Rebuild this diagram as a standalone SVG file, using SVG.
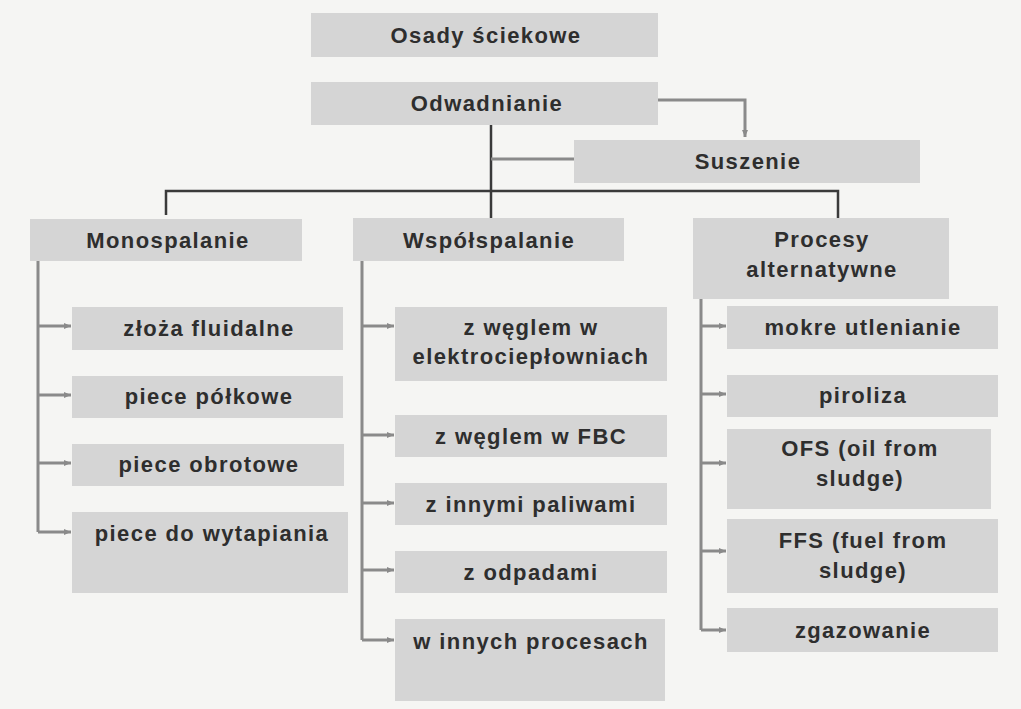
<svg xmlns="http://www.w3.org/2000/svg" width="1021" height="709" viewBox="0 0 1021 709">
<defs>
<style>
.box{fill:#d5d5d5}
.t{font-family:"Liberation Sans",Arial,sans-serif;font-weight:bold;font-size:22px;letter-spacing:1.4px;fill:#2e2e2e;text-anchor:middle}
.dk{stroke:#3a3a3a;stroke-width:2.5;fill:none}
.gr{stroke:#8a8a8a;stroke-width:3;fill:none}
</style>
<marker id="ah" markerWidth="8" markerHeight="8" refX="7" refY="4" orient="auto" markerUnits="userSpaceOnUse">
<path d="M0,1 L7,4 L0,7 z" fill="#8a8a8a"/>
</marker>
</defs>
<rect width="1021" height="709" fill="#f5f5f3"/>
<g id="connectors">
<path class="gr" d="M658,100 H745 V137" marker-end="url(#ah)"/>
<path class="dk" d="M491,125 V218"/>
<path class="gr" d="M491,159 H574"/>
<path class="dk" d="M166,215 V191 H838 V218"/>
<path class="gr" d="M38,261 V532"/>
<path class="gr" d="M38,326 H71" marker-end="url(#ah)"/>
<path class="gr" d="M38,395 H71" marker-end="url(#ah)"/>
<path class="gr" d="M38,463 H71" marker-end="url(#ah)"/>
<path class="gr" d="M38,532 H71" marker-end="url(#ah)"/>
<path class="gr" d="M362,261 V640"/>
<path class="gr" d="M362,326 H394" marker-end="url(#ah)"/>
<path class="gr" d="M362,435 H394" marker-end="url(#ah)"/>
<path class="gr" d="M362,503 H394" marker-end="url(#ah)"/>
<path class="gr" d="M362,570 H394" marker-end="url(#ah)"/>
<path class="gr" d="M362,640 H394" marker-end="url(#ah)"/>
<path class="gr" d="M701,299 V630"/>
<path class="gr" d="M701,326 H726" marker-end="url(#ah)"/>
<path class="gr" d="M701,394 H726" marker-end="url(#ah)"/>
<path class="gr" d="M701,463 H726" marker-end="url(#ah)"/>
<path class="gr" d="M701,551 H726" marker-end="url(#ah)"/>
<path class="gr" d="M701,630 H726" marker-end="url(#ah)"/>
</g>
<g id="n-osady"><rect class="box" x="311" y="13" width="347" height="44"/><text class="t" x="486" y="43">Osady ściekowe</text></g>
<g id="n-odwadnianie"><rect class="box" x="311" y="82" width="347" height="43"/><text class="t" x="487" y="111">Odwadnianie</text></g>
<g id="n-suszenie"><rect class="box" x="574" y="140" width="346" height="43"/><text class="t" x="748" y="169">Suszenie</text></g>
<g id="n-mono"><rect class="box" x="30" y="219" width="272" height="42"/><text class="t" x="168" y="248">Monospalanie</text></g>
<g id="n-wspol"><rect class="box" x="353" y="218" width="271" height="43"/><text class="t" x="489" y="248">Współspalanie</text></g>
<g id="n-procesy"><rect class="box" x="693" y="218" width="256" height="81"/><text class="t" x="822" y="247">Procesy</text><text class="t" x="822" y="277">alternatywne</text></g>
<g id="n-zloza"><rect class="box" x="72" y="307" width="271" height="43"/><text class="t" x="209" y="336">złoża fluidalne</text></g>
<g id="n-polkowe"><rect class="box" x="72" y="376" width="271" height="42"/><text class="t" x="209" y="404">piece półkowe</text></g>
<g id="n-obrotowe"><rect class="box" x="72" y="444" width="272" height="42"/><text class="t" x="209" y="472">piece obrotowe</text></g>
<g id="n-wytapiania"><rect class="box" x="72" y="512" width="276" height="81"/><text class="t" x="212" y="541">piece do wytapiania</text></g>
<g id="n-elektro"><rect class="box" x="395" y="307" width="272" height="74"/><text class="t" x="531" y="335">z węglem w</text><text class="t" x="531" y="364">elektrociepłowniach</text></g>
<g id="n-fbc"><rect class="box" x="395" y="415" width="272" height="42"/><text class="t" x="531" y="444">z węglem w FBC</text></g>
<g id="n-paliwami"><rect class="box" x="395" y="483" width="272" height="42"/><text class="t" x="531" y="512">z innymi paliwami</text></g>
<g id="n-odpadami"><rect class="box" x="395" y="551" width="272" height="42"/><text class="t" x="531" y="580">z odpadami</text></g>
<g id="n-procesach"><rect class="box" x="395" y="619" width="270" height="82"/><text class="t" x="531" y="649">w innych procesach</text></g>
<g id="n-mokre"><rect class="box" x="727" y="306" width="271" height="43"/><text class="t" x="863" y="335">mokre utlenianie</text></g>
<g id="n-piroliza"><rect class="box" x="727" y="375" width="271" height="42"/><text class="t" x="863" y="403">piroliza</text></g>
<g id="n-ofs"><rect class="box" x="727" y="429" width="264" height="80"/><text class="t" x="860" y="456">OFS (oil from</text><text class="t" x="860" y="486">sludge)</text></g>
<g id="n-ffs"><rect class="box" x="727" y="519" width="271" height="74"/><text class="t" x="863" y="548">FFS (fuel from</text><text class="t" x="863" y="578">sludge)</text></g>
<g id="n-zgazowanie"><rect class="box" x="727" y="608" width="271" height="44"/><text class="t" x="863" y="638">zgazowanie</text></g>
</svg>
